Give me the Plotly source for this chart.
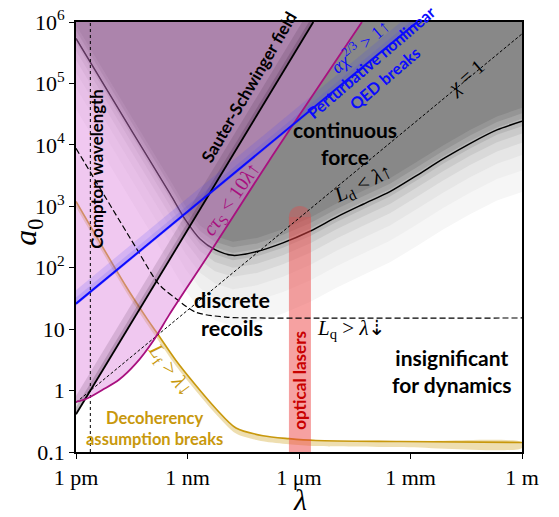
import numpy as np
import plotly.graph_objects as go

# ---------------- data ----------------
lam_ticks = [1e-12, 1e-9, 1e-6, 1e-3, 1.0]
lam_tick_labels = ["1 pm", "1 nm", "1 μm", "1 mm", "1 m"]
a0_ticks = [0.1, 1, 10, 1e2, 1e3, 1e4, 1e5, 1e6]
a0_tick_labels = ["0.1", "1", "10", "10<sup>2</sup>", "10<sup>3</sup>",
                  "10<sup>4</sup>", "10<sup>5</sup>", "10<sup>6</sup>"]

compton_lambda = 2.43e-12

sauter_lam = [1e-12, 2.43e-6]
sauter_a0 = [0.41, 1e6]

pert_lam = [1e-12, 1.52e-3]
pert_a0 = [26.0, 1e6]

chi1_lam = [1e-12, 1.0]
chi1_a0 = [0.64, 6.4e5]

magenta_lam = [1e-12, 1.86e-12, 5.32e-12, 1.43e-11, 4.11e-11, 1.18e-10,
               3.18e-10, 9.1e-10, 3.34e-9, 1.56e-7, 4.94e-5]
magenta_a0 = [0.653, 0.728, 1.04, 1.50, 2.77, 6.37, 16.9, 44.9, 148, 5.48e3, 1e6]

Ld_lam = [1e-12, 3.41e-11, 3.38e-10, 9.1e-10, 2.17e-9, 5.5e-9, 1.67e-8, 7.4e-8,
          3.7e-7, 1.97e-6, 1.05e-5, 5.3e-5, 2.8e-4, 1.49e-3, 7.5e-3, 0.0398, 0.212, 1.0]
Ld_a0 = [5.4e5, 1.57e4, 1.61e3, 584, 294, 197, 159, 184, 254, 392, 674, 1.08e3,
         1.73e3, 3.19e3, 5.9e3, 1.05e4, 1.75e4, 2.42e4]

Lq_lam = [1e-12, 4.11e-11, 1.71e-10, 4.90e-10, 1.69e-9, 1.09e-8, 8.9e-8, 1.0]
Lq_a0 = [8.77e3, 212, 53.7, 31.3, 18.8, 15.7, 15.2, 15.2]

Lf_lam = [1e-12, 2.21e-11, 7.64e-11, 1.42e-10, 4.90e-10, 1.69e-9, 5.83e-9,
          2.02e-8, 1.07e-7, 5.37e-7, 2.86e-6, 5.2e-4, 1.0]
Lf_a0 = [1202, 50.0, 15.7, 9.14, 3.09, 1.21, 0.507, 0.246, 0.184, 0.165,
         0.154, 0.148, 0.143]

optical_lam_center = 1.06e-6
optical_a0_top = 1e3

# ---------------- styles ----------------
SANS = "Lato"
SERIF = "Liberation Serif"
BLUE = "#0a0aff"
MAG = "#a8107f"
GOLD = "#c8980c"
RED = "#c80000"

fig = go.Figure()

def add(**kw):
    kw.setdefault("showlegend", False)
    kw.setdefault("hoverinfo", "skip")
    fig.add_trace(go.Scatter(**kw))

BIG = 1e9
# gray shading around L_d (light -> dark, opaque bands)
shade_steps = [(-1.15, "#f6f6f6"), (-0.8, "#efefef"), (-0.55, "#e6e6e6"),
               (-0.35, "#d9d9d9"), (-0.2, "#cacaca"), (-0.08, "#b8b8b8"),
               (0.04, "#a5a5a5"), (0.13, "#959595"), (0.22, "#888888")]
for k, col in shade_steps:
    add(x=Ld_lam + [10, 10, 1e-13, 1e-13],
        y=[a * 10 ** k for a in Ld_a0] + [Ld_a0[-1] * 10 ** k, BIG, BIG, Ld_a0[0] * 10 ** k],
        mode="none", fill="toself", fillcolor=col)

# gold band + line (under pink)
add(x=Lf_lam + Lf_lam[::-1], y=Lf_a0 + [a * 10 ** -0.09 for a in Lf_a0[::-1]],
    mode="none", fill="toself", fillcolor="rgba(205,160,30,0.35)",
    line=dict(shape="spline", smoothing=0.8))
add(x=Lf_lam, y=Lf_a0, mode="lines", line=dict(color=GOLD, width=1.6, shape="spline", smoothing=0.8))

# L_d line (under pink)
add(x=Ld_lam, y=Ld_a0, mode="lines", line=dict(color="black", width=1.5, shape="spline", smoothing=0.8))

# pink region (cτ_S < 10λ)
add(x=magenta_lam + [1e-13, 1e-13], y=magenta_a0 + [BIG, magenta_a0[0]], mode="none",
    fill="toself", fillcolor="rgba(220,128,220,0.43)")

# Sauter-Schwinger shadow
for s, al in [(0.12, 0.2), (0.3, 0.14)]:
    add(x=sauter_lam + [v / 10 ** s for v in sauter_lam[::-1]], y=sauter_a0 + sauter_a0[::-1],
        mode="none", fill="toself", fillcolor=f"rgba(60,30,60,{al})")

# blue band
for s in [0.1, 0.22]:
    add(x=pert_lam + pert_lam[::-1],
        y=[v * 10 ** s for v in pert_a0] + [v * 10 ** -0.03 for v in pert_a0[::-1]],
        mode="none", fill="toself", fillcolor="rgba(60,60,255,0.15)")

# optical lasers bar
cap_center = optical_a0_top / 10 ** (11 / 63.7)
add(x=[optical_lam_center, optical_lam_center], y=[0.05, cap_center], mode="lines+markers",
    line=dict(color="rgb(238,70,70)", width=22),
    marker=dict(size=[0, 22], color="rgb(238,70,70)", line=dict(width=0)),
    opacity=0.5, cliponaxis=True)

# lines on top
add(x=[compton_lambda, compton_lambda], y=[0.1, 1e6], mode="lines",
    line=dict(color="black", width=1, dash="dot"))
add(x=chi1_lam, y=chi1_a0, mode="lines", line=dict(color="black", width=1, dash="3px,2px"))
add(x=Lq_lam, y=Lq_a0, mode="lines", line=dict(color="black", width=1.2, dash="6px,3px",
                                             shape="spline", smoothing=0.8))
add(x=sauter_lam, y=sauter_a0, mode="lines", line=dict(color="black", width=1.8))
add(x=magenta_lam, y=magenta_a0, mode="lines", line=dict(color=MAG, width=1.8, shape="spline", smoothing=0.8))
add(x=pert_lam, y=pert_a0, mode="lines", line=dict(color=BLUE, width=2))

# ---------------- annotations ----------------
L = np.log10
ann = []

def label(text, lam, a0, size, color="black", family=SANS, angle=0):
    ann.append(dict(text=text, x=L(lam), y=L(a0), xref="x", yref="y", showarrow=False,
                    textangle=angle, xanchor="center", yanchor="middle",
                    font=dict(family=family, size=size, color=color)))

label("<b>Compton wavelength</b>", 3.67e-12, 4.1e3, 16.8, angle=-90)
label("<b>Sauter-Schwinger field</b>", 4.5e-8, 8.9e4, 17, angle=-59.7)
label("<b>Perturbative nonlinear<br>QED breaks</b>", 1.33e-4, 1.64e5, 16.2, color=BLUE, angle=-40.6)
label("<i>αχ</i><sup>2/3</sup> > 1↑", 4.37e-5, 4.2e5, 18, color=BLUE, family=SERIF, angle=-40.6)
label("<b>continuous<br>force</b>", 1.73e-5, 1.09e4, 21)
label("<i>χ</i> = 1", 0.031, 1.23e5, 20, family=SERIF, angle=-40.6)
label("<i>L</i><sub>d</sub> < <i>λ</i>↑", 5.3e-5, 2.3e3, 21, family=SERIF, angle=-26)
label("<i>cτ</i><sub>S</sub> < 10<i>λ</i>↑", 1.57e-8, 1.3e3, 20, color=MAG, family=SERIF, angle=-55)
label("<b>discrete<br>recoils</b>", 1.57e-8, 17.4, 21.5)
label("<i>L</i><sub>q</sub> > <i>λ</i>⇣", 2.66e-5, 10.2, 21, family=SERIF)
label("<b>insignificant<br>for dynamics</b>", 0.0131, 2.08, 21)
label("<b>optical lasers</b>", 1.06e-6, 1.5, 17, color=RED, angle=-90)
label("<i>L</i><sub>f</sub> > <i>λ</i>↓", 3.38e-10, 2.15, 21, color=GOLD, family=SERIF, angle=54)
label("<b>Decoherency<br>assumption breaks</b>", 1.33e-10, 0.237, 16.5, color=GOLD)

ann.append(dict(text="<i>a</i><sub>0</sub>", xref="paper", yref="paper", x=0, y=0.51,
                xshift=-48, showarrow=False, textangle=-90, xanchor="center", yanchor="middle",
                font=dict(family=SERIF, size=32, color="black")))
ann.append(dict(text="<i>λ</i>", xref="paper", yref="paper", x=0.502, y=0, yshift=-47,
                showarrow=False, xanchor="center", yanchor="middle",
                font=dict(family=SERIF, size=30, color="black")))

axis_common = dict(showgrid=False, zeroline=False, showline=True, mirror=True,
                   linecolor="black", linewidth=1.6, ticks="outside", ticklen=5,
                   tickwidth=1.2, tickcolor="black", ticklabeloverflow="allow",
                   tickfont=dict(family=SERIF, size=22, color="black"))

fig.update_layout(
    width=559, height=517,
    margin=dict(l=76, r=37, t=6, b=65),
    paper_bgcolor="white", plot_bgcolor="white",
    xaxis=dict(type="log", range=[-12, 0], tickvals=lam_ticks, ticktext=lam_tick_labels, **axis_common),
    yaxis=dict(type="log", range=[-1, 6], tickvals=a0_ticks, ticktext=a0_tick_labels, **axis_common),
    annotations=ann,
)

fig.write_html("out.html", config={"displayModeBar": False},
               post_script="document.body.style.margin='0px';document.body.style.padding='0px';")
